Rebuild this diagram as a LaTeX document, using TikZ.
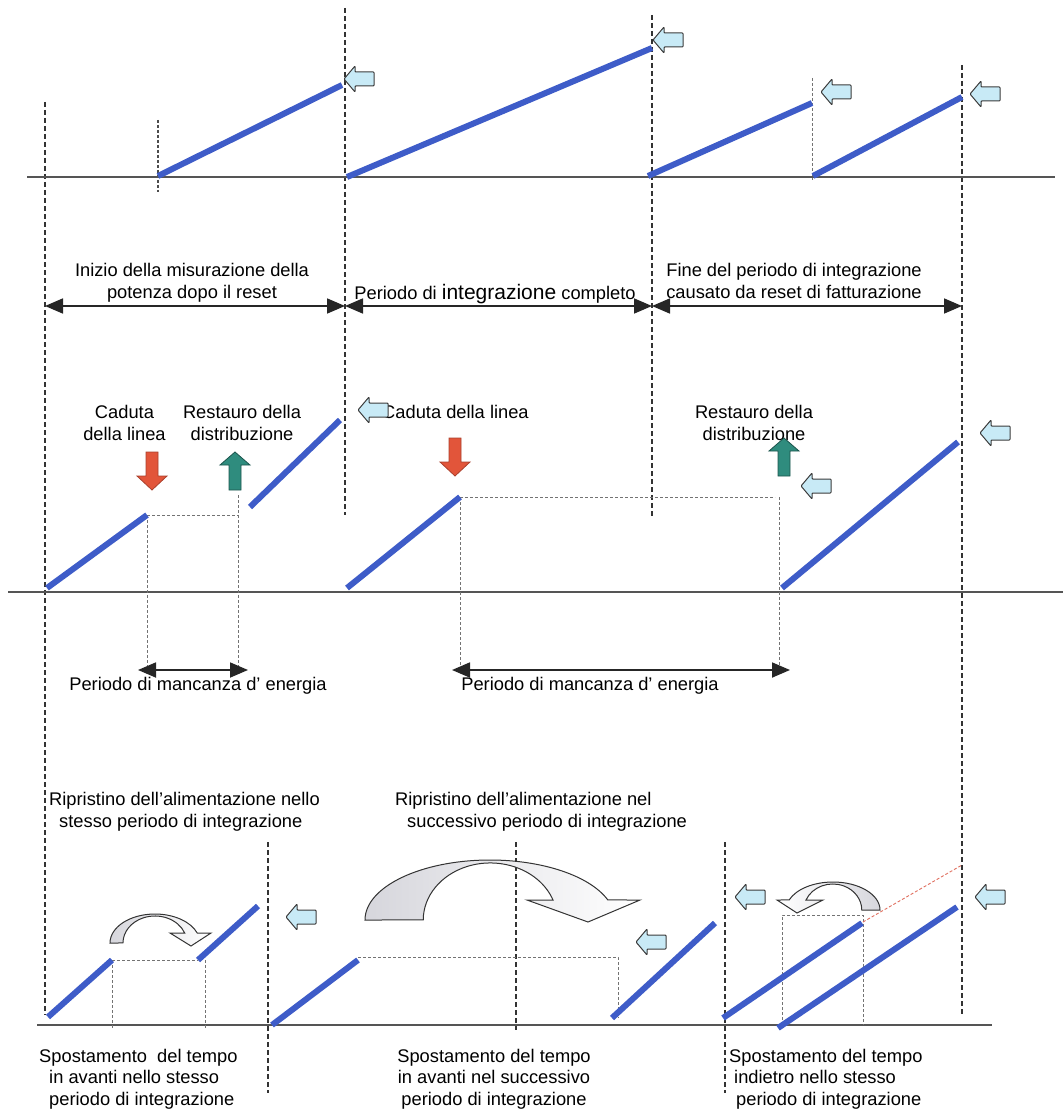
\documentclass[tikz,border=0pt]{standalone}
\usepackage{fontspec}
\setmainfont{Liberation Sans}
\usetikzlibrary{arrows.meta}
\definecolor{rampblue}{HTML}{3E5CC8}
\definecolor{axisgray}{HTML}{555555}
\definecolor{tabfill}{HTML}{C8EAF6}
\definecolor{tabline}{HTML}{3C3C3C}
\definecolor{dropred}{HTML}{E2553A}
\definecolor{backgreen}{HTML}{2F8C7E}
\definecolor{linkred}{HTML}{E07060}
\definecolor{bandgray}{HTML}{D6D6DC}
\begin{document}
\begin{tikzpicture}[x=1pt,y=-1pt,
  ramp/.style={draw=rampblue, line width=6pt},
  axis/.style={draw=axisgray, line width=1.8pt},
  bound/.style={draw=black!80, line width=1.4pt, dash pattern=on 5pt off 3pt},
  guide/.style={draw=black!55, line width=0.8pt, dash pattern=on 3pt off 2pt},
  span/.style={draw=black!85, line width=1.8pt,
    {Triangle[length=18pt,width=15pt]}-{Triangle[length=18pt,width=15pt]}},
  lbl/.style={font=\fontsize{18.3}{22}\selectfont, inner sep=0pt, align=center},
  lblb/.style={font=\fontsize{18.3}{21.5}\selectfont, inner sep=0pt},
  curvedband/.style={draw=black!80, line width=1pt},
  pics/lefttab/.style={code={
    \draw[fill=tabfill, draw=tabline, line width=1pt, rounded corners=0.8pt]
      (-15,0) -- (-4,-13) -- (-4,-7) -- (15,-7) -- (15,7) -- (-4,7) -- (-4,13) -- cycle;}},
  pics/droparrow/.style={code={
    \draw[fill=dropred, draw=dropred!75!black, line width=0.8pt]
      (-6,0) -- (6,0) -- (6,24) -- (15,24) -- (0,38) -- (-15,24) -- (-6,24) -- cycle;}},
  pics/backarrow/.style={code={
    \draw[fill=backgreen, draw=backgreen!60!black, line width=0.8pt]
      (0,0) -- (15,13) -- (6,13) -- (6,38) -- (-6,38) -- (-6,13) -- (-15,13) -- cycle;}},
]
\useasboundingbox (0,0) rectangle (1063,1110);

% ---------- integration period boundaries ----------
\draw[bound] (45,102) -- (45,1015);
\draw[bound] (345,8) -- (345,515);
\draw[bound] (652,15) -- (652,518);
\draw[bound] (962,65) -- (962,1015);
\draw[guide, draw=black!70, line width=1.1pt] (158,120) -- (158,192);
\draw[guide] (812,78) -- (812,180);
\draw[bound] (268,842) -- (268,1093);
\draw[bound] (516,842) -- (516,1030);
\draw[bound] (725,842) -- (725,1093);

% ---------- time axes ----------
\draw[axis] (27,177) -- (1055,177);
\draw[axis] (8,592) -- (1063,592);
\draw[axis] (37,1025) -- (992,1025);

% ---------- top row: energy ramps ----------
\draw[ramp] (158,176) -- (342,85);
\draw[ramp] (347,177) -- (652,48);
\draw[ramp] (648,176) -- (812,103);
\draw[ramp] (813,176) -- (962,97);
\pic at (359,79) {lefttab};
\pic at (668,40) {lefttab};
\pic at (836,92) {lefttab};
\pic at (985,94) {lefttab};

% ---------- period spans ----------
\coordinate (s0) at (45,306);
\coordinate (s1) at (345,306);
\coordinate (s2) at (652,306);
\coordinate (s3) at (962,306);
\draw[span] (s0) -- (s1);
\draw[span] (s1) -- (s2);
\draw[span] (s2) -- (s3);
\node[lbl, anchor=north] (tStart) at (192,263)
  {Inizio della misurazione della\\potenza dopo il reset};
\node[lbl, anchor=base] (tFull) at (495,299)
  {Periodo di {\fontsize{21}{22}\selectfont integrazione} completo};
\node[lbl, anchor=north] (tEnd) at (794,263)
  {Fine del periodo di integrazione\\causato da reset di fatturazione};

% ---------- middle row: outages ----------
\node[lbl, anchor=north] (tDrop1) at (124.5,405) {Caduta\\della linea};
\node[lbl, anchor=north] (tBack1) at (242,405) {Restauro della\\distribuzione};
\node[lbl, anchor=base west] (tDrop2) at (382,418) {Caduta della linea};
\node[lbl, anchor=north] (tBack2) at (754,405) {Restauro della\\distribuzione};
\pic at (152,452) {droparrow};
\pic at (455,438) {droparrow};
\pic at (235,452) {backarrow};
\pic at (784,438) {backarrow};

\draw[guide] (147,515) -- (238,515);
\draw[guide] (147,515) -- (147,670);
\draw[guide] (238,495) -- (238,670);
\draw[guide] (460,497) -- (775,497);
\draw[guide] (460,497) -- (460,670);
\draw[guide] (779,497) -- (779,670);

\draw[ramp] (47,588) -- (147,515);
\draw[ramp] (250,507) -- (340,420);
\draw[ramp] (347,588) -- (460,497);
\draw[ramp] (782,588) -- (958,442);
\pic at (373,410) {lefttab};
\pic at (816,486) {lefttab};
\pic at (995,433) {lefttab};

\coordinate (o1a) at (138,670);
\coordinate (o1b) at (248,670);
\coordinate (o2a) at (452,670);
\coordinate (o2b) at (790,670);
\draw[span] (o1a) -- (o1b);
\draw[span] (o2a) -- (o2b);
\node[lbl, anchor=base] (tOut1) at (198,690) {Periodo di mancanza d’ energia};
\node[lbl, anchor=base] (tOut2) at (590,690) {Periodo di mancanza d’ energia};

% ---------- bottom row: clock shifts ----------
\node[lbl, align=left, anchor=north west] (tSame) at (49,792)
  {Ripristino dell’alimentazione nello\\\hspace*{10pt}stesso periodo di integrazione};
\node[lbl, align=left, anchor=north west] (tNext) at (395,792)
  {Ripristino dell’alimentazione nel\\\hspace*{12pt}successivo periodo di integrazione};

\draw[guide] (112,960) -- (198,960);
\draw[guide] (112,960) -- (112,1028);
\draw[guide] (205,960) -- (205,1028);
\draw[guide] (358,957) -- (618,957) -- (618,1018);
\draw[guide] (782,1025) -- (782,915) -- (863,915) -- (863,1025);
\draw[draw=linkred, line width=0.9pt, dash pattern=on 3pt off 2pt] (863,922) -- (962,865);

\draw[ramp] (48,1017) -- (112,960);
\draw[ramp] (198,960) -- (258,906);
\draw[ramp] (272,1025) -- (358,960);
\draw[ramp] (612,1018) -- (715,923);
\draw[ramp] (723,1018) -- (862,923);
\draw[ramp] (778,1028) -- (957,907);

\pic at (301,917) {lefttab};
\pic at (651,942) {lefttab};
\pic at (750,897) {lefttab};
\pic at (990,897) {lefttab};

% curved shift arrows: a ribbon arc ending in a flat head
\draw[curvedband, left color=bandgray, right color=white]
  (110,943) arc[start angle=180, end angle=340, x radius=45, y radius=29]
  -- (211,933) -- (191,946) -- (170,933) -- (184.7,933)
  arc[start angle=338.3, end angle=180, x radius=32, y radius=27] -- cycle;
\draw[curvedband, left color=bandgray, right color=white]
  (365,920) arc[start angle=180, end angle=340.5, x radius=125, y radius=60]
  -- (640,900) -- (588,922) -- (527,900) -- (553,900)
  arc[start angle=339.5, end angle=180, x radius=67, y radius=57] -- cycle;
\draw[curvedband, right color=bandgray, left color=white]
  (880,910) arc[start angle=360, end angle=201, x radius=47, y radius=28]
  -- (777,900) -- (797,913) -- (823,900) -- (806,900)
  arc[start angle=202.6, end angle=360, x radius=29, y radius=26] -- cycle;

\node[lblb, align=left, anchor=north west] (tFwdSame) at (39,1049)
  {Spostamento\ \ del tempo\\\hspace*{10pt}in avanti nello stesso\\\hspace*{10pt}periodo di integrazione};
\node[lblb, align=center, anchor=north] (tFwdNext) at (494,1049)
  {Spostamento del tempo\\in avanti nel successivo\\periodo di integrazione};
\node[lblb, align=left, anchor=north west] (tBackSame) at (729,1049)
  {Spostamento del tempo\\\hspace*{5pt}indietro nello stesso\\\hspace*{7pt}periodo di integrazione};
\end{tikzpicture}
\end{document}
